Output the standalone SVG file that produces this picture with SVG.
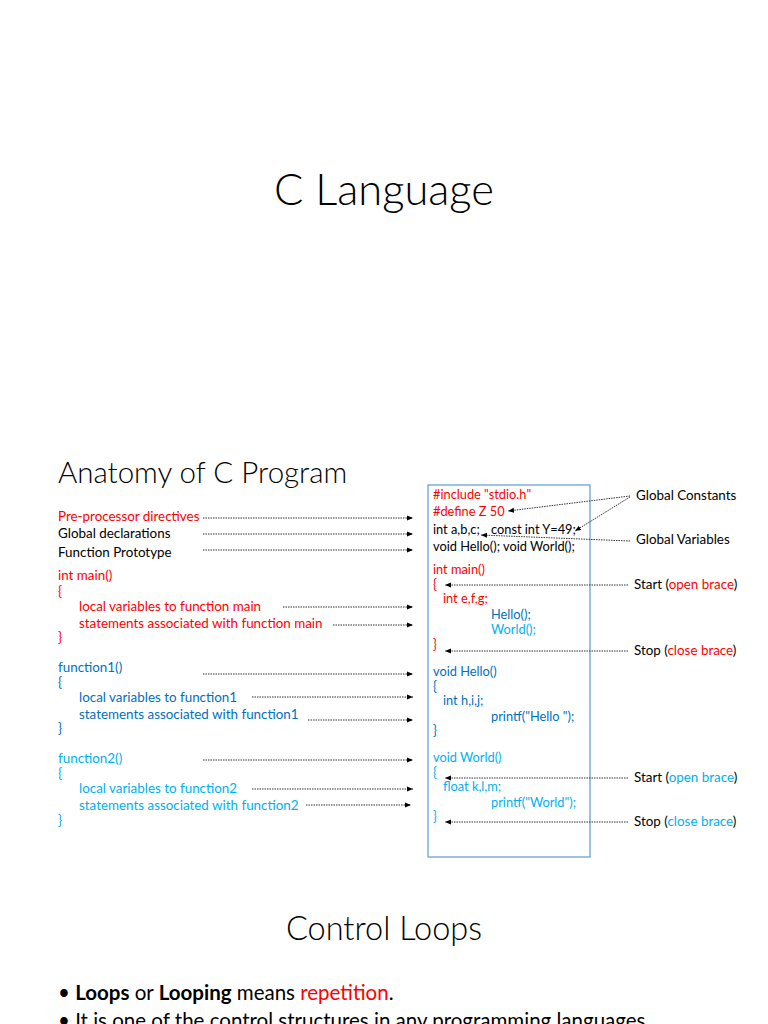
<svg xmlns="http://www.w3.org/2000/svg" width="768" height="1024" viewBox="0 0 768 1024">
<style>
text{font-family:Lato,"Open Sans","Liberation Sans",sans-serif;}
.t{font-size:13.4px;fill:#000}
.c{font-size:12.8px;fill:#000}
.r{fill:#ff0000}
.b{fill:#0070c0}
.lb{fill:#00b0f0}
.ar{stroke:#333;stroke-width:1;stroke-dasharray:1.5 1;fill:none;marker-end:url(#ah)}
</style>
<defs>
<marker id="ah" viewBox="0 0 6 6" refX="6" refY="3" markerWidth="6" markerHeight="6" markerUnits="userSpaceOnUse" orient="auto">
<path d="M0,0.5 L6,3 L0,5.5 Z" fill="#000"/>
</marker>
</defs>
<rect width="768" height="1024" fill="#fff"/>
<g id="title"><text x="384" y="205" text-anchor="middle" font-size="43.5" font-weight="300" fill="#000">C Language</text></g>
<g id="heading"><text x="58" y="483" font-size="29.5" font-weight="300" fill="#000">Anatomy of C Program</text></g>

<g id="left-labels">
<text x="58" y="521" class="t r">Pre-processor directives</text>
<text x="58" y="538" class="t">Global declarations</text>
<text x="58" y="557" class="t">Function Prototype</text>
<text x="58" y="580" class="t r">int main()</text>
<text x="58" y="596" class="t r">{</text>
<text x="79" y="611" class="t r">local variables to function main</text>
<text x="79" y="628" class="t r">statements associated with function main</text>
<text x="58" y="642" class="t r">}</text>
<text x="58" y="672" class="t b">function1()</text>
<text x="58" y="687" class="t b">{</text>
<text x="79" y="702" class="t b">local variables to function1</text>
<text x="79" y="719" class="t b">statements associated with function1</text>
<text x="58" y="733" class="t b">}</text>
<text x="58" y="763" class="t lb">function2()</text>
<text x="58" y="778" class="t lb">{</text>
<text x="79" y="793" class="t lb">local variables to function2</text>
<text x="79" y="810" class="t lb">statements associated with function2</text>
<text x="58" y="825" class="t lb">}</text>
</g>

<g id="code-box">
<rect x="428" y="485" width="162" height="372" fill="none" stroke="#5b9bd5" stroke-width="1.2"/>
<text x="433" y="499" class="c r">#include "stdio.h"</text>
<text x="433" y="516" class="c r">#define Z 50</text>
<text x="433" y="534" class="c">int a,b,c;</text>
<text x="491" y="534" class="c">const int Y=49;</text>
<text x="433" y="551" class="c">void Hello(); void World();</text>
<text x="433" y="574" class="c r">int main()</text>
<text x="433" y="589" class="c r">{</text>
<text x="443" y="603" class="c r">int e,f,g;</text>
<text x="491" y="619" class="c b">Hello();</text>
<text x="491" y="634" class="c lb">World();</text>
<text x="433" y="649" class="c r">}</text>
<text x="433" y="676" class="c b">void Hello()</text>
<text x="433" y="691" class="c b">{</text>
<text x="443" y="705" class="c b">int h,i,j;</text>
<text x="491" y="721" class="c b">printf("Hello ");</text>
<text x="433" y="735" class="c b">}</text>
<text x="433" y="762" class="c lb">void World()</text>
<text x="433" y="777" class="c lb">{</text>
<text x="443" y="791" class="c lb">float k,l,m;</text>
<text x="491" y="807" class="c lb">printf("World");</text>
<text x="433" y="821" class="c lb">}</text>
</g>

<g id="right-labels">
<text x="636" y="500" class="t">Global Constants</text>
<text x="636" y="544" class="t">Global Variables</text>
<text x="634" y="589" class="t">Start (<tspan class="r">open brace</tspan>)</text>
<text x="634" y="655" class="t">Stop (<tspan class="r">close brace</tspan>)</text>
<text x="634" y="782" class="t">Start (<tspan class="lb">open brace</tspan>)</text>
<text x="634" y="826" class="t">Stop (<tspan class="lb">close brace</tspan>)</text>
</g>

<g id="connectors">
<line class="ar" x1="203" y1="518" x2="413" y2="518"/>
<line class="ar" x1="203" y1="534" x2="413" y2="534"/>
<line class="ar" x1="203" y1="550" x2="413" y2="550"/>
<line class="ar" x1="283" y1="607" x2="413" y2="607"/>
<line class="ar" x1="333" y1="625" x2="413" y2="625"/>
<line class="ar" x1="203" y1="674" x2="413" y2="674"/>
<line class="ar" x1="252" y1="697" x2="413" y2="697"/>
<line class="ar" x1="308" y1="720" x2="413" y2="720"/>
<line class="ar" x1="203" y1="760" x2="413" y2="760"/>
<line class="ar" x1="252" y1="789" x2="413" y2="789"/>
<line class="ar" x1="306" y1="805" x2="411" y2="805"/>
<line class="ar" x1="630" y1="496" x2="508" y2="511"/>
<line class="ar" x1="630" y1="497" x2="575" y2="531"/>
<line class="ar" x1="630" y1="541" x2="481" y2="535"/>
<line class="ar" x1="628" y1="585" x2="445" y2="585"/>
<line class="ar" x1="628" y1="651" x2="445" y2="651"/>
<line class="ar" x1="628" y1="778" x2="445" y2="778"/>
<line class="ar" x1="628" y1="822" x2="445" y2="822"/>
</g>

<g id="section2">
<text x="384" y="940" text-anchor="middle" font-size="32.5" font-weight="300" fill="#000">Control Loops</text>
<text x="58" y="1000" font-size="20.5" fill="#000">• <tspan font-weight="bold">Loops</tspan> or <tspan font-weight="bold">Looping</tspan> means <tspan fill="#ff0000">repetition</tspan>.</text>
<text x="58" y="1028" font-size="20.5" fill="#000">• It is one of the control structures in any programming languages.</text>
</g>
</svg>
